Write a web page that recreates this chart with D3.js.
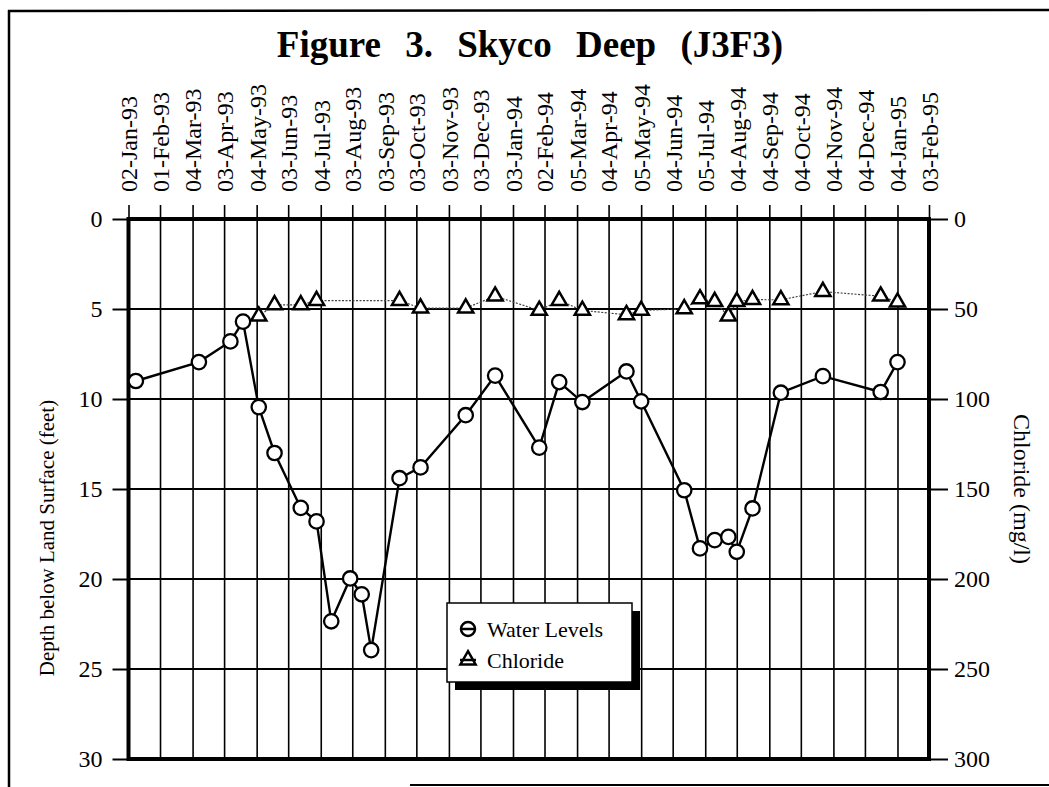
<!DOCTYPE html>
<html>
<head>
<meta charset="utf-8">
<script src="https://cdn.jsdelivr.net/npm/d3@7"></script>
<style>
  body { margin: 0; background: white; }
  svg { display: block; font-family: "Liberation Serif", "Times New Roman", serif; }
</style>
</head>
<body>
<svg id="vis" width="1049" height="787"></svg>
<script>
var vis = d3.select("#vis");

// sampling dates and depth to water (feet below land surface)
var sampleDates = ["1993-01-09", "1993-03-10", "1993-04-09", "1993-04-21", "1993-05-06", "1993-05-21",
    "1993-06-15", "1993-06-30", "1993-07-14", "1993-08-01", "1993-08-12", "1993-08-21",
    "1993-09-17", "1993-10-07", "1993-11-19", "1993-12-17", "1994-01-28", "1994-02-16",
    "1994-03-10", "1994-04-21", "1994-05-05", "1994-06-15", "1994-06-30", "1994-07-14",
    "1994-07-27", "1994-08-04", "1994-08-19", "1994-09-15", "1994-10-25", "1994-12-19", "1995-01-04"];
var waterLevels = [9.0, 7.95, 6.8, 5.7, 10.45, 13.0,
    16.05, 16.8, 22.35, 19.97, 20.85, 23.95,
    14.4, 13.8, 10.9, 8.7, 12.7, 9.06,
    10.17, 8.47, 10.13, 15.07, 18.3, 17.84,
    17.66, 18.49, 16.08, 9.65, 8.73, 9.61, 7.95];

// chloride samples (mg/l)
var chlorideDates = ["1993-05-06", "1993-05-21", "1993-06-15", "1993-06-30",
    "1993-09-17", "1993-10-07", "1993-11-19", "1993-12-17", "1994-01-28", "1994-02-16",
    "1994-03-10", "1994-04-21", "1994-05-05", "1994-06-15", "1994-06-30", "1994-07-14",
    "1994-07-27", "1994-08-04", "1994-08-19", "1994-09-15", "1994-10-25", "1994-12-19", "1995-01-04"];
var chlorideValues = [54, 47.7, 47.7, 45.3,
    45.3, 49.5, 49.5, 42.9, 50.8, 45.3,
    50.8, 53.2, 50.8, 49.9, 44.4, 45.9,
    54.0, 45.9, 44.8, 44.9, 40.3, 42.9, 46.2];

// top axis tick labels
var tickLabels = ["02-Jan-93", "01-Feb-93", "04-Mar-93", "03-Apr-93", "04-May-93", "03-Jun-93",
    "04-Jul-93", "03-Aug-93", "03-Sep-93", "03-Oct-93", "03-Nov-93", "03-Dec-93",
    "03-Jan-94", "02-Feb-94", "05-Mar-94", "04-Apr-94", "05-May-94", "04-Jun-94",
    "05-Jul-94", "04-Aug-94", "04-Sep-94", "04-Oct-94", "04-Nov-94", "04-Dec-94",
    "04-Jan-95", "03-Feb-95"];
var depthTicks = [0, 5, 10, 15, 20, 25, 30];
var chlorideTicks = [0, 50, 100, 150, 200, 250, 300];

var parseIso = d3.timeParse("%Y-%m-%d");
var parseTick = d3.timeParse("%d-%b-%y");

var water = sampleDates.map((d, i) => ({ date: parseIso(d), value: waterLevels[i] }));
var chloride = chlorideDates.map((d, i) => ({ date: parseIso(d), value: chlorideValues[i] }));
var ticks = tickLabels.map(t => parseTick(t));

// plot box (note: "top" is taken by window.top)
var pL = 128.5, pR = 929, pT = 219, pB = 759;

var x = d3.scaleTime()
    .domain([ticks[0], ticks[ticks.length - 1]])
    .range([pL, pR]);
var yDepth = d3.scaleLinear().domain([0, 30]).range([pT, pB]);
var yCl = d3.scaleLinear().domain([0, 300]).range([pT, pB]);

// page frame
vis.append("line").attr("x1", 8).attr("x2", 1049).attr("y1", 11).attr("y2", 10)
    .attr("stroke", "black").attr("stroke-width", 2.5);
vis.append("line").attr("x1", 9).attr("x2", 9).attr("y1", 10).attr("y2", 787)
    .attr("stroke", "black").attr("stroke-width", 2.5);
vis.append("line").attr("x1", 410).attr("x2", 1049).attr("y1", 785).attr("y2", 785)
    .attr("stroke", "black").attr("stroke-width", 2);

// title
vis.append("text")
    .attr("x", 530)
    .attr("y", 57)
    .attr("text-anchor", "middle")
    .attr("font-size", "37px")
    .attr("font-weight", "bold")
    .attr("word-spacing", "15px")
    .text("Figure 3. Skyco Deep (J3F3)");

// vertical grid + top ticks
var topAxis = d3.axisTop(x)
    .tickValues(ticks)
    .tickSize(pB - pT + 14)
    .tickFormat((d, i) => tickLabels[i]);
var gx = vis.append("g")
    .attr("transform", `translate(0 ${pB})`)
    .call(topAxis);
gx.select(".domain").remove();
gx.selectAll(".tick line").attr("stroke", "black").attr("stroke-width", 1.6);
gx.selectAll(".tick text")
    .attr("font-family", "Liberation Serif")
    .attr("font-size", "24px")
    .attr("fill", "black")
    .attr("text-anchor", "start")
    .attr("transform", `translate(0 ${-(pB - 192)}) rotate(-90)`)
    .attr("x", 0)
    .attr("y", 0)
    .attr("dy", "0.35em");

// horizontal grid
vis.selectAll(".hgrid").data(depthTicks.slice(1, -1))
    .enter().append("line")
    .attr("class", "hgrid")
    .attr("x1", pL).attr("x2", pR)
    .attr("y1", d => yDepth(d)).attr("y2", d => yDepth(d))
    .attr("stroke", "black")
    .attr("stroke-width", 2);

// left axis
var gl = vis.append("g")
    .attr("transform", `translate(${pL} 0)`)
    .call(d3.axisLeft(yDepth).tickValues(depthTicks).tickSize(16).tickPadding(10));
gl.select(".domain").remove();
gl.selectAll(".tick line").attr("stroke", "black").attr("stroke-width", 2);
gl.selectAll(".tick text")
    .attr("font-family", "Liberation Serif")
    .attr("font-size", "24px")
    .attr("fill", "black");

// right axis
var gr = vis.append("g")
    .attr("transform", `translate(${pR} 0)`)
    .call(d3.axisRight(yCl).tickValues(chlorideTicks).tickSize(19).tickPadding(6));
gr.select(".domain").remove();
gr.selectAll(".tick line").attr("stroke", "black").attr("stroke-width", 2);
gr.selectAll(".tick text")
    .attr("font-family", "Liberation Serif")
    .attr("font-size", "24px")
    .attr("fill", "black");

// plot frame, heavy lines
vis.append("rect")
    .attr("x", pL).attr("y", pT)
    .attr("width", pR - pL).attr("height", pB - pT)
    .attr("fill", "none")
    .attr("stroke", "black")
    .attr("stroke-width", 4);

// axis titles
vis.append("text")
    .attr("transform", `translate(47 538) rotate(-90)`)
    .attr("text-anchor", "middle")
    .attr("dy", "0.35em")
    .attr("font-size", "21px")
    .text("Depth below Land Surface (feet)");
vis.append("text")
    .attr("transform", `translate(1022 ${(pT + pB) / 2}) rotate(90)`)
    .attr("text-anchor", "middle")
    .attr("dy", "0.35em")
    .attr("font-size", "24px")
    .text("Chloride (mg/l)");

// chloride series
var clLine = d3.line().x(d => x(d.date)).y(d => yCl(d.value));
vis.append("path")
    .datum(chloride)
    .attr("d", clLine)
    .attr("fill", "none")
    .attr("stroke", "#444")
    .attr("stroke-width", 1.2)
    .attr("stroke-dasharray", "2,1.5");

var tri = d3.symbol().type(d3.symbolTriangle).size(100);
vis.selectAll(".cl").data(chloride)
    .enter().append("path")
    .attr("class", "cl")
    .attr("d", tri)
    .attr("transform", d => `translate(${x(d.date)} ${yCl(d.value)})`)
    .attr("fill", "white")
    .attr("stroke", "black")
    .attr("stroke-width", 2.5);

// water level series
var wlLine = d3.line().x(d => x(d.date)).y(d => yDepth(d.value));
vis.append("path")
    .datum(water)
    .attr("d", wlLine)
    .attr("fill", "none")
    .attr("stroke", "black")
    .attr("stroke-width", 2.4);

vis.selectAll(".wl").data(water)
    .enter().append("circle")
    .attr("class", "wl")
    .attr("cx", d => x(d.date))
    .attr("cy", d => yDepth(d.value))
    .attr("r", 7.2)
    .attr("fill", "white")
    .attr("stroke", "black")
    .attr("stroke-width", 2.3);

// legend with drop shadow
var lg = vis.append("g").attr("transform", "translate(447 603)");
lg.append("rect").attr("x", 8).attr("y", 8).attr("width", 185).attr("height", 79).attr("fill", "black");
lg.append("rect").attr("width", 185).attr("height", 79)
    .attr("fill", "white").attr("stroke", "black").attr("stroke-width", 1.5);

lg.append("line").attr("x1", 13).attr("x2", 29).attr("y1", 26).attr("y2", 26)
    .attr("stroke", "black").attr("stroke-width", 2.5);
lg.append("circle").attr("cx", 21).attr("cy", 26).attr("r", 7)
    .attr("fill", "none").attr("stroke", "black").attr("stroke-width", 2.5);
lg.append("text").attr("x", 40).attr("y", 26).attr("dy", "0.35em")
    .attr("font-size", "22px").text("Water Levels");

lg.append("line").attr("x1", 13).attr("x2", 29).attr("y1", 57).attr("y2", 57)
    .attr("stroke", "black").attr("stroke-width", 2.5);
lg.append("path").attr("d", tri).attr("transform", "translate(21 57)")
    .attr("fill", "none").attr("stroke", "black").attr("stroke-width", 2.5);
lg.append("text").attr("x", 40).attr("y", 57).attr("dy", "0.35em")
    .attr("font-size", "22px").text("Chloride");
</script>
</body>
</html>
